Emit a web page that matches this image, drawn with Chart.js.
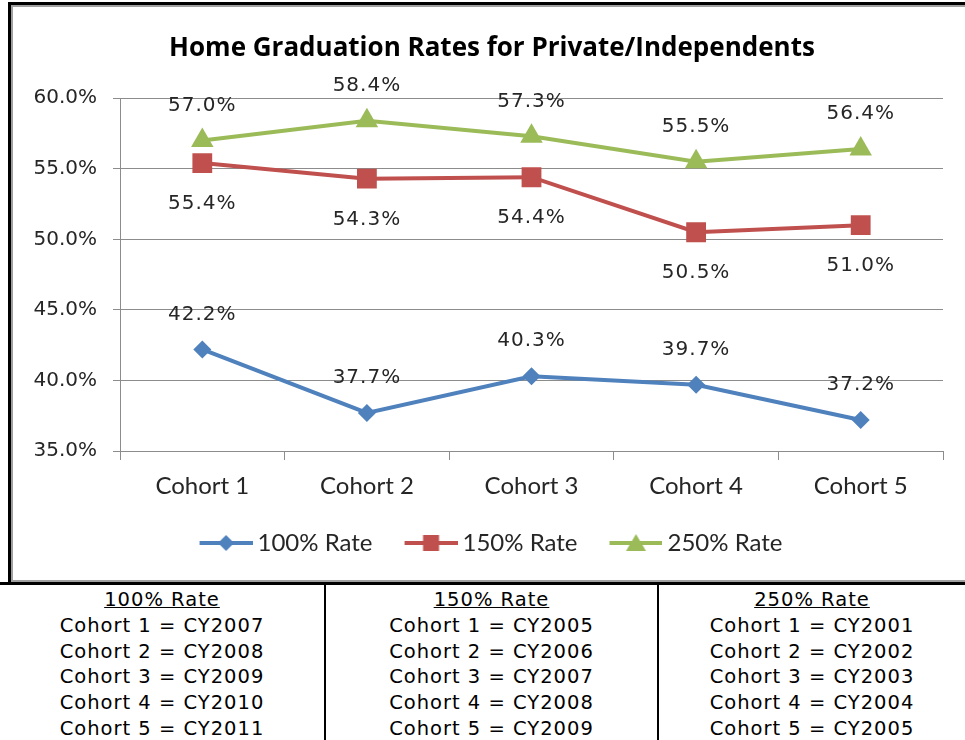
<!DOCTYPE html>
<html>
<head>
<meta charset="utf-8">
<script src="https://cdn.jsdelivr.net/npm/chart.js@4/dist/chart.umd.min.js"></script>
<style>
  html, body { margin: 0; padding: 0; background: #fff; }
  body { width: 965px; height: 740px; position: relative; overflow: hidden; }
  #frame {
    position: absolute; left: 8px; top: 2px; width: 990px; height: 577px;
    border: 3px solid #000; box-shadow: inset 0 0 0 2px #a0a0a0;
  }
  #chartBox { position: absolute; left: 13px; top: 6px; width: 958px; height: 574px; }
  #table {
    position: absolute; left: 0; top: 582px; width: 965px; height: 160px;
    border-top: 3px solid #000;
    font-family: "DejaVu Sans", Verdana, sans-serif; font-size: 19.5px; letter-spacing: 1px; color: #000;
  }
  .col { position: absolute; top: 0; bottom: 0; text-align: center; line-height: 25.8px; padding-top: 2px; }
  .col .head { text-decoration: underline; }
  #c1 { left: 0; width: 324px; border-right: 2px solid #000; }
  #c2 { left: 326px; width: 331px; border-right: 2px solid #000; }
  #c3 { left: 659px; width: 306px; }
</style>
</head>
<body>
<div id="frame"></div>
<div id="chartBox"><canvas id="gradChart"></canvas></div>
<div id="table">
  <div class="col" id="c1"></div>
  <div class="col" id="c2"></div>
  <div class="col" id="c3"></div>
</div>
<script>
const cohorts = ['Cohort 1', 'Cohort 2', 'Cohort 3', 'Cohort 4', 'Cohort 5'];
const rate100 = [42.2, 37.7, 40.3, 39.7, 37.2];
const rate150 = [55.4, 54.3, 54.4, 50.5, 51.0];
const rate250 = [57.0, 58.4, 57.3, 55.5, 56.4];
const yTicks = [35, 40, 45, 50, 55, 60];

// cohort -> calendar year table
const years100 = ['CY2007', 'CY2008', 'CY2009', 'CY2010', 'CY2011'];
const years150 = ['CY2005', 'CY2006', 'CY2007', 'CY2008', 'CY2009'];
const years250 = ['CY2001', 'CY2002', 'CY2003', 'CY2004', 'CY2005'];

function fillCol(id, title, years) {
    let html = '<div class="head">' + title + '</div>';
    years.forEach((y, i) => {
        html += '<div>Cohort ' + (i + 1) + ' = ' + y + '</div>';
    });
    document.getElementById(id).innerHTML = html;
}
fillCol('c1', '100% Rate', years100);
fillCol('c2', '150% Rate', years150);
fillCol('c3', '250% Rate', years250);

const BLUE = '#4F81BD', RED = '#C0504D', GREEN = '#9BBB59';
const TEXT = '#262626';

// legend swatch: line with marker in the middle
function legendIcon(color, style) {
    const c = document.createElement('canvas');
    c.width = 58; c.height = 20;
    const g = c.getContext('2d');
    g.strokeStyle = color; g.lineWidth = 4;
    g.beginPath(); g.moveTo(5, 10); g.lineTo(58, 10); g.stroke();
    g.fillStyle = color;
    const cx = 31.5, cy = 10;
    g.beginPath();
    if (style === 'diamond') {
        g.moveTo(cx, cy - 8); g.lineTo(cx + 8, cy); g.lineTo(cx, cy + 8); g.lineTo(cx - 8, cy);
    } else if (style === 'square') {
        g.rect(cx - 8, cy - 8, 16, 16);
    } else {
        g.moveTo(cx, cy - 9); g.lineTo(cx + 10, cy + 8); g.lineTo(cx - 10, cy + 8);
    }
    g.closePath(); g.fill();
    return c;
}
const icons = [legendIcon(BLUE, 'diamond'), legendIcon(RED, 'square'), legendIcon(GREEN, 'triangle')];

// value labels, above or below the points
const labelOffsets = [-35, 41, -35];
const valueLabels = {
    id: 'valueLabels',
    afterDatasetsDraw(chart) {
        const ctx = chart.ctx;
        ctx.save();
        ctx.font = '20px "DejaVu Sans", Verdana, sans-serif';
        ctx.letterSpacing = '1px';
        ctx.fillStyle = TEXT;
        ctx.textAlign = 'center';
        ctx.textBaseline = 'middle';
        chart.data.datasets.forEach((ds, i) => {
            const meta = chart.getDatasetMeta(i);
            meta.data.forEach((pt, j) => {
                ctx.fillText(ds.data[j].toFixed(1) + '%', pt.x, pt.y + labelOffsets[i]);
            });
        });
        ctx.restore();
    }
};

const ctx = document.getElementById('gradChart').getContext('2d');
const myChart = new Chart(ctx, {
    type: 'line',
    data: {
        labels: cohorts,
        datasets: [
            {
                label: '100% Rate', data: rate100,
                borderColor: BLUE, backgroundColor: BLUE,
                borderWidth: 4, pointStyle: 'rectRot', pointRadius: 9,
                pointBorderWidth: 0, tension: 0
            },
            {
                label: '150% Rate', data: rate150,
                borderColor: RED, backgroundColor: RED,
                borderWidth: 4, pointStyle: 'rect', pointRadius: 14,
                pointBorderWidth: 0, tension: 0
            },
            {
                label: '250% Rate', data: rate250,
                borderColor: GREEN, backgroundColor: GREEN,
                borderWidth: 4, pointStyle: 'triangle', pointRadius: 13,
                pointBorderWidth: 0, tension: 0
            }
        ]
    },
    options: {
        responsive: true,
        maintainAspectRatio: false,
        animation: false,
        layout: { padding: { left: 0, right: 0, top: 0, bottom: 15 } },
        scales: {
            y: {
                min: 35, max: 60,
                afterBuildTicks: (scale) => { scale.ticks = yTicks.map(v => ({ value: v })); },
                afterFit: (scale) => { scale.width = 107; },
                ticks: {
                    padding: 16,
                    color: TEXT,
                    font: { family: '"DejaVu Sans", Verdana, sans-serif', size: 20 },
                    callback: (v) => v.toFixed(1) + '%'
                },
                grid: { color: '#8c8c8c', lineWidth: 1, tickLength: 7 },
                border: { color: '#8c8c8c', width: 1 }
            },
            // empty right-hand spacer so title and legend centre like the original
            yRight: {
                position: 'right',
                min: 35, max: 60,
                afterFit: (scale) => { scale.width = 28; },
                ticks: { display: false },
                grid: { display: false },
                border: { display: false }
            },
            x: {
                offset: true,
                afterFit: (scale) => { scale.height = 46; },
                grid: { offset: true, drawOnChartArea: false, color: '#8c8c8c', tickLength: 9 },
                border: { color: '#8c8c8c', width: 1 },
                ticks: {
                    padding: 12,
                    color: TEXT,
                    maxRotation: 0,
                    font: { family: 'Lato, "Liberation Sans", sans-serif', size: 24 }
                }
            }
        },
        plugins: {
            title: {
                display: true,
                text: 'Home Graduation Rates for Private/Independents',
                color: '#000',
                font: { family: '"Open Sans", Lato, sans-serif', size: 26, weight: 'bold' },
                padding: { top: 27, bottom: 34 }
            },
            legend: {
                position: 'bottom',
                labels: {
                    usePointStyle: true,
                    pointStyleWidth: 44,
                    padding: 34,
                    color: TEXT,
                    font: { family: 'Lato, "Liberation Sans", sans-serif', size: 24 },
                    generateLabels: (chart) => chart.data.datasets.map((ds, i) => ({
                        text: ds.label,
                        pointStyle: icons[i],
                        fillStyle: ds.borderColor,
                        strokeStyle: ds.borderColor,
                        lineWidth: 0,
                        fontColor: TEXT,
                        datasetIndex: i
                    }))
                }
            },
            tooltip: { enabled: false }
        }
    },
    plugins: [valueLabels]
});
</script>
</body>
</html>
